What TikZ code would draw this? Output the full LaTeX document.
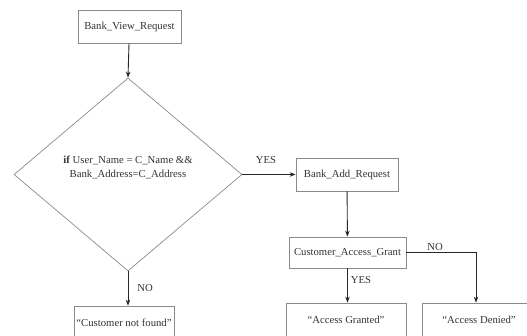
\documentclass[tikz,border=0pt]{standalone}
\usepackage{fontspec}
\setmainfont{Liberation Serif}
\usetikzlibrary{shapes.geometric,arrows.meta}
\definecolor{txt}{HTML}{333333}
\definecolor{edge}{HTML}{8A8A8A}
\begin{document}
\begin{tikzpicture}[x=1pt,y=-1pt,
  box/.style={draw=edge,line width=0.7pt,rectangle,inner sep=0pt,text=txt,font=\fontsize{10.7}{14}\selectfont},
  lbl/.style={text=txt,inner sep=0pt,font=\fontsize{10.7}{14}\selectfont},
  arr/.style={draw=black!85,line width=0.9pt,-{Stealth[length=6pt,width=4.5pt]}}]
\useasboundingbox (0,0) rectangle (527,336);
\clip (0,0) rectangle (527,336);
\node[box,minimum width=103pt,minimum height=33pt] (bvr) at (129.5,26.5) {Bank\_View\_Request};
\node[draw=edge,line width=0.7pt,diamond,inner sep=0pt,minimum width=228pt,minimum height=193pt] (dec) at (128,174.5) {};
\node[lbl,align=center] (cond) at (128,167) {\textbf{if} User\_Name = C\_Name \&\&\\Bank\_Address=C\_Address};
\node[box,minimum width=102pt,minimum height=33pt] (bar) at (347,174.5) {Bank\_Add\_Request};
\node[box,minimum width=117pt,minimum height=31pt] (cag) at (347.5,252.5) {Customer\_Access\_Grant};
\node[box,minimum width=100pt,minimum height=34pt] (cnf) at (124,323) {``Customer not found''};
\node[box,minimum width=120pt,minimum height=34pt] (ag) at (346,320) {``Access Granted''};
\node[box,minimum width=114pt,minimum height=34pt] (ad) at (479,320) {``Access Denied''};
\coordinate (nocorner) at (476,252.5);
\draw[arr] (bvr) -- (dec.north);
\draw[arr] (dec.east) -- (bar.west);
\draw[arr] (bar) -- (cag);
\draw[arr] (cag.south) -- (cag.south |- ag.north);
\draw[arr] (cag.east) -- (nocorner) -- (nocorner |- ad.north);
\draw[arr] (dec.south) -- (dec.south |- cnf.north);
\node[lbl] (yes1) at (266,160) {YES};
\node[lbl] (no1) at (145,288) {NO};
\node[lbl] (yes2) at (361,280) {YES};
\node[lbl] (no2) at (435,247) {NO};
\end{tikzpicture}
\end{document}
